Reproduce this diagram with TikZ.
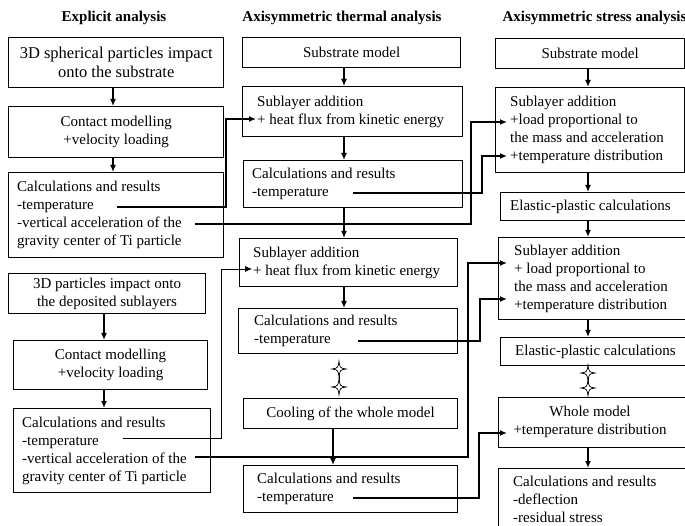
\documentclass[tikz,border=0pt]{standalone}
\usepackage{fontspec}
\setmainfont{Liberation Serif}
\usetikzlibrary{arrows.meta,positioning}

\begin{document}
\begin{tikzpicture}[x=1pt,y=-1pt,
  frame/.style={draw,line width=1.1pt,anchor=north west,inner sep=0pt},
  cbox/.style={frame,align=center,font=\fontsize{15}{18}\selectfont},
  txt/.style={anchor=west,align=left,inner sep=0pt,font=\fontsize{15}{18}\selectfont},
  head/.style={font=\fontsize{15}{18}\selectfont\bfseries},
  link/.style={line width=1.4pt},
  arr/.style={link,-{Latex[length=7pt,width=6pt]}},
  spark/.pic={\draw[fill=white,line width=.7pt] (0,-8) .. controls (1,-1) .. (7,0)
    .. controls (1,1) .. (0,8) .. controls (-1,1) .. (-7,0) .. controls (-1,-1) .. cycle;}]
  \useasboundingbox (0,0) rectangle (685,526);
  \clip (0,0) rectangle (685,526);
  % column titles
  \node[head] (h1) at (114,18) {Explicit analysis};
  \node[head] (h2) at (342,18) {Axisymmetric thermal analysis};
  \node[head,anchor=west] (h3) at (499,18) {Axisymmetric stress analysis};
  % arrow columns
  \coordinate (ax1) at (113,0);
  \coordinate (ax2) at (104,0);
  \coordinate (bx1) at (344,0);
  \coordinate (bx2) at (333,0);
  \coordinate (cx) at (588,0);

  % explicit analysis
  \node[cbox,minimum width=215pt,minimum height=50pt,font=\fontsize{16.5}{19}\selectfont,line width=1.4pt] (a1) at (8,37) {3D spherical particles impact\\onto the substrate};
  \node[cbox,minimum width=215pt,minimum height=51pt,line width=1.3pt] (a2) at (8,106) {Contact modelling\\+velocity loading};
  \node[frame,minimum width=215pt,minimum height=85pt,line width=1.3pt] (a3) at (8,172) {};
  \node[txt] (a3t) at ([xshift=9pt]a3.west) {Calculations and results\\-temperature\\-vertical acceleration of the\\gravity center of Ti particle};
  \node[cbox,minimum width=197pt,minimum height=40pt] (a4) at (8,273) {3D particles impact onto\\the deposited sublayers};
  \node[cbox,minimum width=194pt,minimum height=49pt] (a5) at (13,340) {Contact modelling\\+velocity loading};
  \node[frame,minimum width=197pt,minimum height=84pt] (a6) at (13,408) {};
  \node[txt] (a6t) at ([xshift=9pt]a6.west) {Calculations and results\\-temperature\\-vertical acceleration of the\\gravity center of Ti particle};
  \draw[arr] (a1.south -| ax1) -- (a2.north -| ax1);
  \draw[arr] (a2.south -| ax1) -- (a3.north -| ax1);
  \draw[arr] (a4.south -| ax2) -- (a5.north -| ax2);
  \draw[arr] (a5.south -| ax2) -- (a6.north -| ax2);

  % thermal analysis
  \node[cbox,minimum width=218pt,minimum height=30pt,line width=1.3pt] (b1) at (242,37) {Substrate model};
  \node[frame,minimum width=220pt,minimum height=50pt] (b2) at (242,86) {};
  \node[txt] (b2t) at ([xshift=15pt]b2.west) {Sublayer addition\\+ heat flux from kinetic energy};
  \node[frame,minimum width=219pt,minimum height=47pt] (b3) at (243,160) {};
  \node[txt] (b3t) at ([xshift=9pt]b3.west) {Calculations and results\\-temperature};
  \node[frame,minimum width=218pt,minimum height=48pt] (b4) at (239,238) {};
  \node[txt] (b4t) at ([xshift=14pt]b4.west) {Sublayer addition\\+ heat flux from kinetic energy};
  \node[frame,minimum width=219pt,minimum height=45pt] (b5) at (238,308) {};
  \node[txt] (b5t) at ([xshift=16pt]b5.west) {Calculations and results\\-temperature};
  \node[cbox,minimum width=214pt,minimum height=30pt] (b6) at (243,398) {Cooling of the whole model};
  \node[frame,minimum width=214pt,minimum height=47pt] (b7) at (243,465) {};
  \node[txt] (b7t) at ([xshift=14pt]b7.west) {Calculations and results\\-temperature};
  \draw[arr] (b1.south -| bx1) -- (b2.north -| bx1);
  \draw[arr] (b2.south -| bx1) -- (b3.north -| bx1);
  \draw[arr] (b3.south -| bx1) -- (b4.north -| bx1);
  \draw[arr] (b4.south -| bx1) -- (b5.north -| bx1);
  \draw[arr] (b6.south -| bx2) -- (b7.north -| bx2);
  % more sublayers
  \coordinate (bs1) at (339,369);
  \coordinate (bs2) at (339,387);
  \draw[line width=.8pt] (bs1) -- (bs2);
  \pic at (bs1) {spark};
  \pic at (bs2) {spark};

  % stress analysis
  \node[cbox,minimum width=189pt,minimum height=30pt,line width=1.3pt] (c1) at (495,38) {Substrate model};
  \node[frame,minimum width=189pt,minimum height=85pt] (c2) at (495,87) {};
  \node[txt] (c2t) at ([xshift=15pt]c2.west) {Sublayer addition\\+load proportional to\\the mass and acceleration\\+temperature distribution};
  \node[frame,minimum width=200pt,minimum height=28pt] (c3) at (500,192) {};
  \node[txt] (c3t) at ([xshift=10pt]c3.west) {Elastic-plastic calculations};
  \node[frame,minimum width=202pt,minimum height=82pt] (c4) at (498,237) {};
  \node[txt] (c4t) at ([xshift=16pt]c4.west) {Sublayer addition\\+ load proportional to\\the mass and acceleration\\+temperature distribution};
  \node[frame,minimum width=200pt,minimum height=28pt] (c5) at (500,337) {};
  \node[txt] (c5t) at ([xshift=15pt]c5.west) {Elastic-plastic calculations};
  \node[frame,minimum width=202pt,minimum height=50pt] (c6) at (498,397) {};
  \node[txt,anchor=center,align=center] (c6t) at (590,422) {Whole model\\+temperature distribution};
  \node[frame,minimum width=202pt,minimum height=80pt] (c7) at (498,468) {};
  \node[txt,anchor=north west] (c7t) at ([xshift=15pt,yshift=-8pt]c7.north west) {Calculations and results\\-deflection\\-residual stress};
  \draw[arr] (c1.south -| cx) -- (c2.north -| cx);
  \draw[arr] (c2.south -| cx) -- (c3.north -| cx);
  \draw[arr] (c3.south -| cx) -- (c4.north -| cx);
  \draw[arr] (c4.south -| cx) -- (c5.north -| cx);
  \draw[arr] (c6.south -| cx) -- (c7.north -| cx);
  \coordinate (cs1) at (588,373);
  \coordinate (cs2) at (588,388);
  \draw[line width=.8pt] (cs1) -- (cs2);
  \pic at (cs1) {spark};
  \pic at (cs2) {spark};

  % result transfer between analyses
  \coordinate (a3tmp) at (117,207);
  \coordinate (a3acc) at (195,224);
  \coordinate (a6tmp) at (123,438);
  \coordinate (a6acc) at (195,457);
  \coordinate (b3tmp) at (353,193);
  \coordinate (b5tmp) at (358,341);
  \coordinate (b7tmp) at (353,498);
  \coordinate (b2in) at (256,119);
  \coordinate (b4in) at (252,269);
  \coordinate (c2load) at (507,122);
  \coordinate (c2tmp) at (507,156);
  \coordinate (c4load) at (507,263);
  \coordinate (c4tmp) at (507,299);
  \coordinate (c6tmp) at (507,433);
  \draw[arr] (a3tmp) -- ++(109,0) |- (b2in);
  \draw[arr] (a3acc) -- ++(276,0) |- (c2load);
  \draw[arr] (b3tmp) -- ++(129,0) |- (c2tmp);
  \draw[arr,line width=.7pt] (a6tmp) -- ++(98,0) |- (b4in);
  \draw[arr] (a6acc) -- ++(273,0) |- (c4load);
  \draw[arr] (b5tmp) -- ++(122,0) |- (c4tmp);
  \draw[arr] (b7tmp) -- ++(126,0) |- (c6tmp);
\end{tikzpicture}
\end{document}
